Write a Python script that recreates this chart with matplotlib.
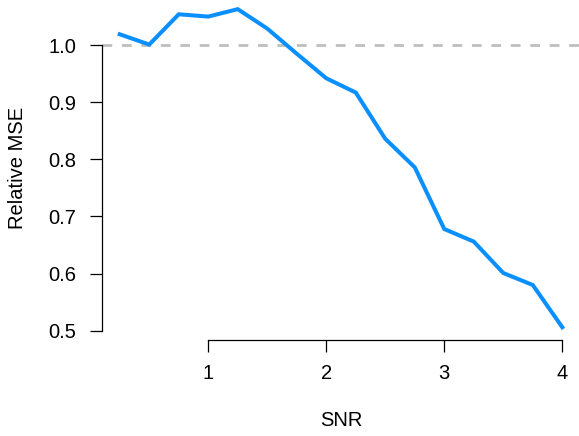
import matplotlib
matplotlib.use("Agg")
from matplotlib import pyplot as plt

# Relative MSE against signal-to-noise ratio
snr = [0.25, 0.5, 0.75, 1.0, 1.25, 1.5, 1.75, 2.0,
       2.25, 2.5, 2.75, 3.0, 3.25, 3.5, 3.75, 4.0]
rel_mse = [1.019, 1.001, 1.054, 1.050, 1.063, 1.029, 0.985, 0.942,
           0.917, 0.836, 0.786, 0.678, 0.656, 0.601, 0.580, 0.506]

x_ticks = [1, 2, 3, 4]
y_ticks = [0.5, 0.6, 0.7, 0.8, 0.9, 1.0]

plt.rcParams['font.family'] = ['Liberation Sans', 'DejaVu Sans']
plt.rcParams['font.size'] = 14.5


def grafico_mse():
    fig = plt.figure(figsize=(5.79, 4.36), dpi=100)
    # plot region in figure coordinates (base-graphics look, no box)
    ax = fig.add_axes([0.1762, 0.2202, 0.8255, 0.788])

    # axis limits with the usual 4% padding around the data
    xr = max(snr) - min(snr)
    yr = max(rel_mse) - min(rel_mse)
    ax.set_xlim(min(snr) - 0.04 * xr, max(snr) + 0.04 * xr)
    ax.set_ylim(min(rel_mse) - 0.04 * yr, max(rel_mse) + 0.04 * yr)

    ax.axhline(1.0, color='#BEBEBE', lw=2, linestyle=(0, (3.5, 3.5)), zorder=1)
    ax.plot(snr, rel_mse, color='#0A8FFF', lw=2.9, solid_joinstyle='miter',
            zorder=2)

    for side in ['top', 'right']:
        ax.spines[side].set_visible(False)
    ax.spines['left'].set_bounds(min(y_ticks), max(y_ticks))
    ax.spines['bottom'].set_bounds(min(x_ticks), max(x_ticks))
    for side in ['left', 'bottom']:
        ax.spines[side].set_linewidth(0.9)

    ax.set_xticks(x_ticks)
    ax.set_xticklabels([str(t) for t in x_ticks])
    ax.set_yticks(y_ticks)
    ax.set_yticklabels([f"{t:.1f}" for t in y_ticks])
    ax.tick_params(axis='x', direction='out', length=8.6, width=0.9, pad=8.5)
    ax.tick_params(axis='y', direction='out', length=8.6, width=0.9, pad=10)

    ax.set_xlabel("SNR", labelpad=20)
    ax.set_ylabel("Relative MSE", labelpad=15)

    fig.savefig('out.png', dpi=100)


def main():
    grafico_mse()


if __name__ == '__main__':
    main()
